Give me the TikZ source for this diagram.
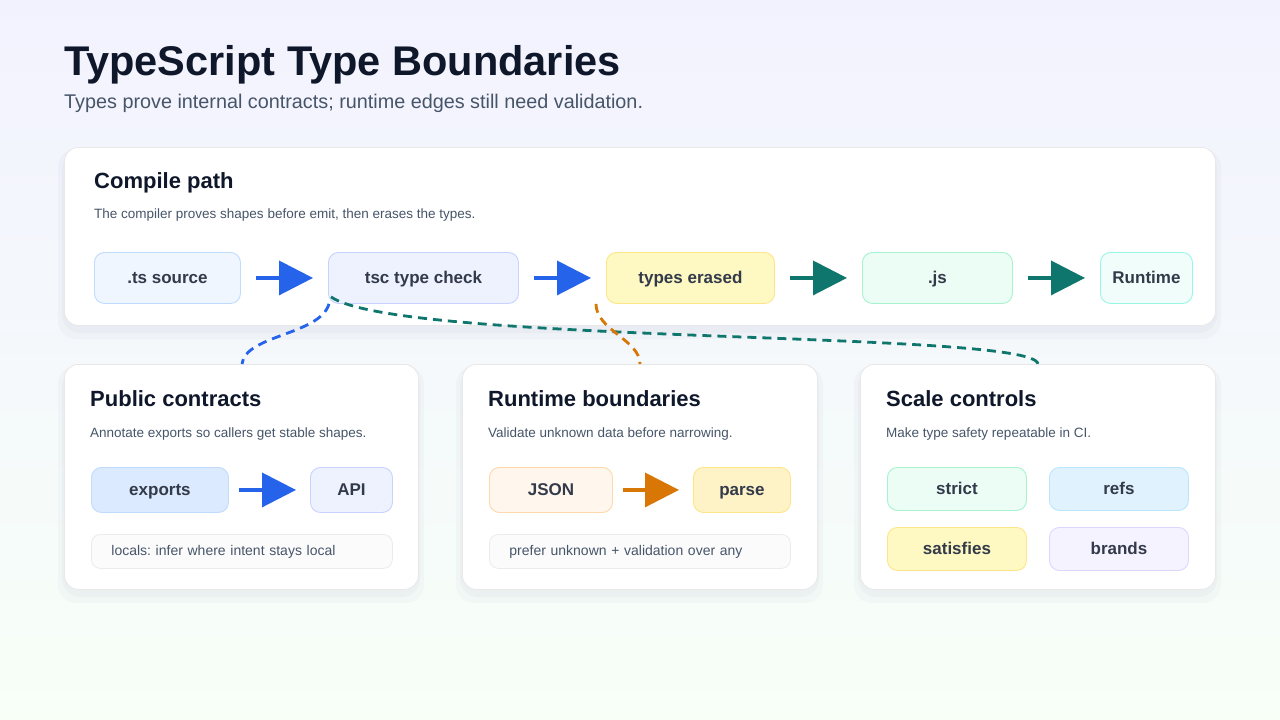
\documentclass[tikz,border=0pt]{standalone}
\usepackage{fontspec}
\setmainfont{Liberation Sans}
\usetikzlibrary{arrows.meta}
\frenchspacing
\definecolor{ink}{HTML}{0F172A}
\definecolor{muted}{HTML}{475569}
\definecolor{blueA}{HTML}{2563EB}
\definecolor{tealA}{HTML}{0F766E}
\definecolor{orangeA}{HTML}{D97706}
\definecolor{blueF}{HTML}{EFF6FF}\definecolor{blueD}{HTML}{BFDBFE}
\definecolor{indF}{HTML}{EEF2FF}\definecolor{indD}{HTML}{C7D2FE}
\definecolor{yelF}{HTML}{FEF9C3}\definecolor{yelD}{HTML}{FDE68A}
\definecolor{grnF}{HTML}{ECFDF5}\definecolor{grnD}{HTML}{A7F3D0}
\definecolor{tealF}{HTML}{F0FDFA}\definecolor{tealD}{HTML}{99F6E4}
\definecolor{expF}{HTML}{DBEAFE}\definecolor{expD}{HTML}{BFDBFE}
\definecolor{orgF}{HTML}{FFF7ED}\definecolor{orgD}{HTML}{FED7AA}
\definecolor{parF}{HTML}{FEF3C7}\definecolor{parD}{HTML}{FDE68A}
\definecolor{skyF}{HTML}{E0F2FE}\definecolor{skyD}{HTML}{BAE6FD}
\definecolor{vioF}{HTML}{F5F3FF}\definecolor{vioD}{HTML}{DDD6FE}
\tikzset{
  card/.style={draw=black!9, fill=white, rounded corners=14pt, line width=0.8pt, inner sep=0pt, anchor=north west},
  shade box/.style={fill=blue!30!black, opacity=0.022, rounded corners=18pt},
  pill/.style={fill=#1F, draw=#1D, rounded corners=10pt, line width=0.9pt, inner sep=0pt, anchor=north west,
    font=\fontsize{17}{20}\selectfont\bfseries, text=ink!85, text height=13pt, text depth=2pt},
  note/.style={draw=black!8, fill=black!1.5, rounded corners=9pt, line width=0.8pt, inner ysep=0pt, inner xsep=20pt,
    align=left, font=\fontsize{14}{17}\selectfont, text=muted, anchor=north west, text height=11pt, text depth=2pt},
  flow/.style={line width=3.5pt, -{Triangle[length=34pt,width=34pt]}},
  link/.style={line width=2.8pt, dash pattern=on 9pt off 6pt},
  cardtitle/.style={anchor=base west, inner sep=0pt, font=\fontsize{22}{26}\selectfont\bfseries, text=ink},
  carddesc/.style={anchor=base west, inner sep=0pt, font=\fontsize{13.5}{16}\selectfont, text=muted}
}
\begin{document}
\begin{tikzpicture}[x=1pt,y=-1pt]
\shade[top color=blue!5, bottom color=green!3, shading angle=0] (0,0) rectangle (1280,720);
\useasboundingbox (0,0) rectangle (1280,720);
% heading
\node[anchor=base west, inner sep=0pt, font=\fontsize{41.5}{46}\selectfont\bfseries, text=ink] (title) at (64,75) {TypeScript Type Boundaries};
\node[anchor=base west, inner sep=0pt, font=\fontsize{19.8}{23}\selectfont, text=muted] (subtitle) at (64,108) {Types prove internal contracts; runtime edges still need validation.};
% soft shadows
\foreach \x/\y/\w/\h in {64/147/1151/178, 64/364/354/225, 462/364/355/225, 860/364/355/225}{
  \fill[shade box] (\x-6,\y+2) rectangle (\x+\w+6,\y+\h+14);
  \fill[shade box] (\x-2,\y+4) rectangle (\x+\w+2,\y+\h+8);
}
% cards
\node[card, minimum width=1151pt, minimum height=178pt] (compile) at (64,147) {};
\node[card, minimum width=354pt, minimum height=225pt] (public) at (64,364) {};
\node[card, minimum width=355pt, minimum height=225pt] (runtimeb) at (462,364) {};
\node[card, minimum width=355pt, minimum height=225pt] (scale) at (860,364) {};
\node[cardtitle] at (94,188) {Compile path};
\node[carddesc] at (94,218) {The compiler proves shapes before emit, then erases the types.};
\node[cardtitle] at (90,406) {Public contracts};
\node[carddesc] at (90,437) {Annotate exports so callers get stable shapes.};
\node[cardtitle] at (488,406) {Runtime boundaries};
\node[carddesc] at (488,437) {Validate unknown data before narrowing.};
\node[cardtitle] at (886,406) {Scale controls};
\node[carddesc] at (886,437) {Make type safety repeatable in CI.};
% compile path
\node[pill=blue, minimum width=146pt, minimum height=51pt] (src) at (94,252) {.ts source};
\node[pill=ind, minimum width=190pt, minimum height=51pt] (tsc) at (328,252) {tsc type check};
\node[pill=yel, minimum width=168pt, minimum height=51pt] (erased) at (606,252) {types erased};
\node[pill=grn, minimum width=150pt, minimum height=51pt] (js) at (862,252) {.js};
\node[pill=teal, minimum width=92pt, minimum height=51pt] (rt) at (1100,252) {Runtime};
\draw[flow, blueA] ([xshift=15pt]src.east) -- ([xshift=-15pt]tsc.west);
\draw[flow, blueA] ([xshift=15pt]tsc.east) -- ([xshift=-15pt]erased.west);
\draw[flow, tealA] ([xshift=15pt]erased.east) -- ([xshift=-15pt]js.west);
\draw[flow, tealA] ([xshift=15pt]js.east) -- ([xshift=-15pt]rt.west);
% public contracts
\node[pill=exp, minimum width=137pt, minimum height=45pt] (exports) at (91,467) {exports};
\node[pill=ind, minimum width=82pt, minimum height=45pt] (api) at (310,467) {API};
\draw[flow, blueA] ([xshift=10pt]exports.east) -- ([xshift=-14pt]api.west);
\node[note, text width=261pt, minimum height=34pt] (locals) at (91,534) {locals: infer where intent stays local};
% runtime boundaries
\node[pill=org, minimum width=123pt, minimum height=45pt] (json) at (489,467) {JSON};
\node[pill=par, minimum width=97pt, minimum height=45pt] (parse) at (693,467) {parse};
\draw[flow, orangeA] ([xshift=10pt]json.east) -- ([xshift=-14pt]parse.west);
\node[note, text width=261pt, minimum height=34pt] (prefer) at (489,534) {prefer unknown + validation over any};
% scale controls
\node[pill=grn, minimum width=139pt, minimum height=43pt] (strict) at (887,467) {strict};
\node[pill=sky, minimum width=139pt, minimum height=43pt] (refs) at (1049,467) {refs};
\node[pill=yel, minimum width=139pt, minimum height=43pt] (satisfies) at (887,527) {satisfies};
\node[pill=vio, minimum width=139pt, minimum height=43pt] (brands) at (1049,527) {brands};
% boundary links
\draw[link, blueA] ([xshift=1pt]tsc.south west) .. controls (320,335) and (245,335) .. ([xshift=178pt]public.north west);
\draw[link, tealA] ([xshift=3pt,yshift=7pt]tsc.south west) .. controls (400,345) and (1035,330) .. ([xshift=178pt]scale.north west);
\draw[link, orangeA] ([xshift=-10pt]erased.south west) .. controls (596,330) and (640,340) .. ([xshift=178pt]runtimeb.north west);
\end{tikzpicture}
\end{document}
